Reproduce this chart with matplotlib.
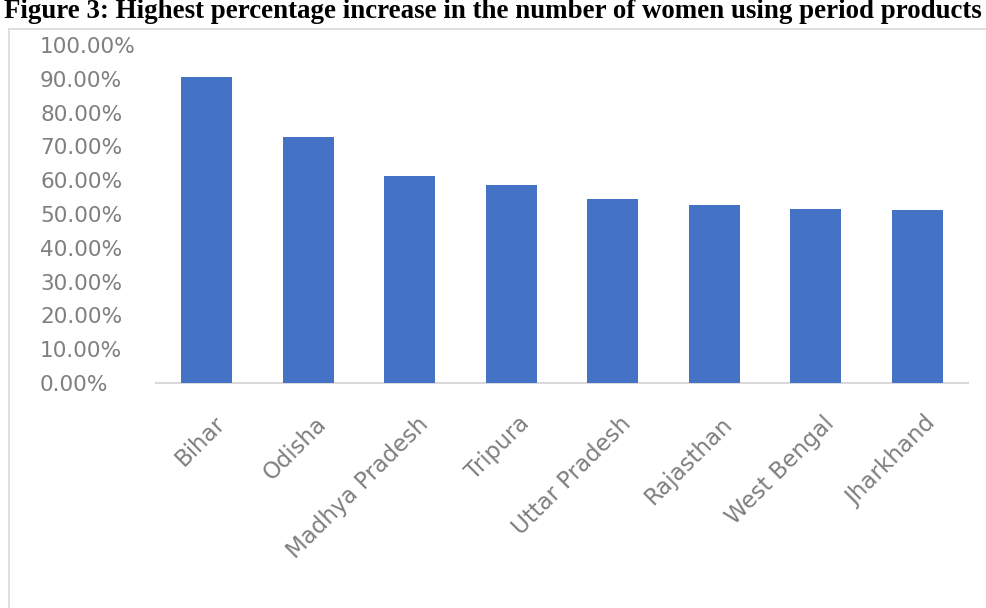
import matplotlib
matplotlib.use("Agg")
import matplotlib.pyplot as plt
from matplotlib.ticker import FuncFormatter
from matplotlib.lines import Line2D
from matplotlib.transforms import ScaledTranslation

states = ["Bihar", "Odisha", "Madhya Pradesh", "Tripura", "Uttar Pradesh",
          "Rajasthan", "West Bengal", "Jharkhand"]
increase = [0.905, 0.728, 0.612, 0.586, 0.545, 0.528, 0.515, 0.512]
yticks = [0.0, 0.1, 0.2, 0.3, 0.4, 0.5, 0.6, 0.7, 0.8, 0.9, 1.0]
title = "Figure 3: Highest percentage increase in the number of women using period products"

dpi = 100
fig = plt.figure(figsize=(9.86, 6.08), dpi=dpi)
W, H = 986, 608

ax = fig.add_axes([156 / W, 1 - 383 / H, (968 - 156) / W, (383 - 45) / H])
x = list(range(len(states)))
ax.bar(x, increase, width=0.5, color="#4472C4", zorder=3)
ax.set_xlim(-0.5, len(states) - 0.5)
ax.set_ylim(0, 1.0)
ax.set_yticks(yticks)
ax.yaxis.set_major_formatter(FuncFormatter(lambda v, p: f"{v*100:.2f}%"))
for s in ["top", "right", "left"]:
    ax.spines[s].set_visible(False)
ax.spines["bottom"].set_color("#d9d9d9")
ax.spines["bottom"].set_linewidth(1.5)
ax.tick_params(axis="y", length=0, pad=(156 - 40) * 72 / dpi, labelsize=15.6,
               labelcolor="#7f7f7f")
for lbl in ax.get_yticklabels():
    lbl.set_horizontalalignment("left")
ax.set_xticks(x)
ax.set_xticklabels(states, rotation=45, ha="right", va="top",
                   rotation_mode="anchor", fontsize=16.5, color="#7f7f7f")
ax.tick_params(axis="x", length=0, pad=21)
off = ScaledTranslation(7 / dpi, 0, fig.dpi_scale_trans)
for lbl in ax.get_xticklabels():
    lbl.set_transform(lbl.get_transform() + off)

# chart frame
fig.add_artist(Line2D([9 / W, 9 / W], [1 - 29 / H, 0.0],
                      transform=fig.transFigure, color="#d9d9d9", lw=1.2))
fig.add_artist(Line2D([9 / W, 1.0], [1 - 29 / H, 1 - 29 / H],
                      transform=fig.transFigure, color="#d9d9d9", lw=1.2))

fig.text(0.5, 1 - 18 / H, title, ha="center", va="baseline",
         fontsize=19.4, fontweight="bold", family="Liberation Serif", color="black")

fig.savefig("out.png", dpi=dpi)
